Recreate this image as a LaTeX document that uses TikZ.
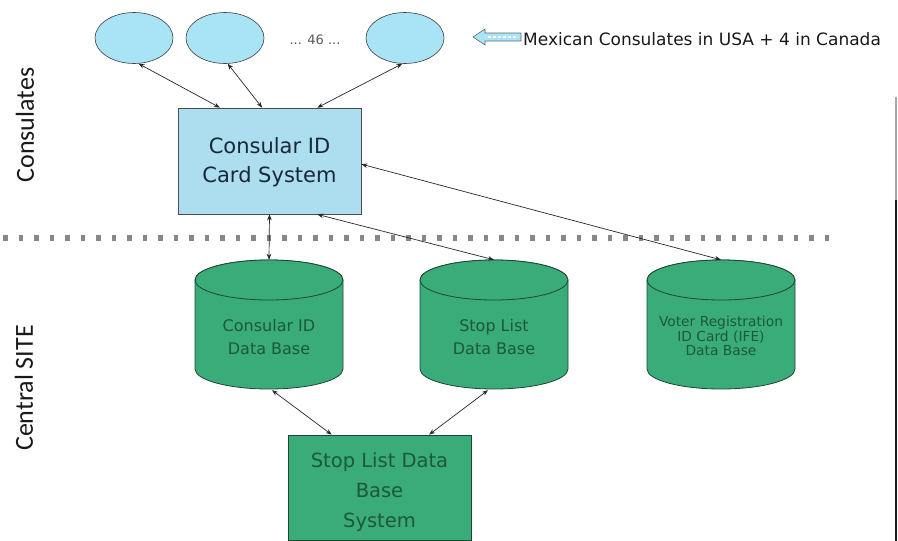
\documentclass[tikz,border=0pt]{standalone}
\usepackage{fontspec}
\setmainfont{DejaVu Sans}
\newfontfamily\sidefont{Carlito}
\usetikzlibrary{shapes.geometric,arrows.meta,calc}
\definecolor{consblue}{RGB}{168,228,246}
\definecolor{boxblue}{RGB}{172,222,240}
\definecolor{dbgreen}{RGB}{58,172,122}
\definecolor{dbline}{RGB}{30,70,50}
\definecolor{dbtext}{RGB}{28,88,58}
\definecolor{boxtext}{RGB}{25,40,55}
\definecolor{dotgray}{RGB}{135,135,135}
\begin{document}
\begin{tikzpicture}[x=1pt,y=-1pt,
  consell/.style={ellipse, draw=black!75, fill=consblue, line width=0.6pt, minimum width=78pt, minimum height=51pt, inner sep=0pt},
  sysbox/.style={rectangle, draw=black!70, line width=0.7pt, minimum width=183pt, minimum height=106pt, inner sep=0pt},
  dbbody/.style={rectangle, minimum width=148pt, minimum height=129pt, inner sep=0pt},
  dblabel/.style={text=dbtext, align=center, inner sep=0pt},
  link/.style={<->, draw=black!85, line width=0.7pt, >={Stealth[length=6pt,width=4.5pt]}},
  sidelabel/.style={rotate=90, font=\sidefont\fontsize{26}{30}\selectfont, text=black!90}
]
\useasboundingbox (0,0) rectangle (898,541);

% consulate ellipses
\node[consell] (e1) at (134,38) {};
\node[consell] (e2) at (225,38) {};
\node[consell] (e3) at (405,38) {};
\node[text=black!65, font=\fontsize{13}{15}\selectfont] (dots) at (315,40) {... 46 ...};

% legend arrow icon and text
\coordinate (ictip) at (473,37);
\path[fill=consblue, draw=black!60, line width=0.6pt]
  (ictip) -- (485,29) -- (485,33) -- (521,33) -- (521,41) -- (485,41) -- (485,45) -- cycle;
\draw[white, line width=1.2pt, dash pattern=on 3pt off 2pt] (488,37) -- (518,37);
\node[anchor=base west, inner sep=0pt, font=\fontsize{17}{20}\selectfont, text=black!90] (legend) at (523,45) {Mexican Consulates in USA + 4 in Canada};

% side labels
\node[sidelabel] (lcons) at (25,125) {Consulates};
\node[sidelabel] (lcent) at (24,388) {Central SITE};

% consular ID card system
\node[sysbox, fill=boxblue] (cis) at (269.5,161) {};
\node[align=center, text=boxtext, font=\fontsize{21}{29}\selectfont, inner sep=0pt] (cist) at (269.5,162) {Consular ID\\Card System};

% separator
\draw[dotgray, line width=6.5pt, dash pattern=on 4.5pt off 11pt] (3,238) -- (830,238);

% cylinders
\foreach \cx/\nm in {269/c1, 494/c2, 721/c3}{
  \path[fill=dbgreen, draw=dbline, line width=0.8pt]
    (\cx-74,280) -- (\cx-74,369) arc[start angle=180, end angle=0, x radius=74, y radius=20]
    -- (\cx+74,280) arc[start angle=0, end angle=-180, x radius=74, y radius=20] -- cycle;
  \draw[dbline, line width=0.8pt, fill=dbgreen] (\cx,280) ellipse[x radius=74, y radius=20];
  \node[dbbody] (\nm) at (\cx,324.5) {};
}
\node[dblabel, font=\fontsize{16}{23}\selectfont] (c1t) at (269,337) {Consular ID\\Data Base};
\node[dblabel, font=\fontsize{16}{23}\selectfont] (c2t) at (494,337) {Stop List\\Data Base};
\node[dblabel, font=\fontsize{13.8}{14.5}\selectfont] (c3t) at (721,336) {Voter Registration\\ID Card (IFE)\\Data Base};

% stop list data base system
\node[sysbox, fill=dbgreen, draw=dbline, minimum height=105pt] (sls) at (379.5,487.5) {};
\node[align=center, text=dbtext, font=\fontsize{19.5}{30}\selectfont, inner sep=0pt] (slst) at (379.5,492) {Stop List Data\\Base\\System};

% connectors
\draw[link] (e1.-80) -- ($(cis.north west)!0.23!(cis.north east)$);
\draw[link] (e2.-84) -- ($(cis.north west)!0.46!(cis.north east)$);
\draw[link] (e3.-96) -- ($(cis.north west)!0.76!(cis.north east)$);
\draw[link] (cis.south) -- (c1.north);
\draw[link] ($(cis.south west)!0.76!(cis.south east)$) -- (c2.north);
\draw[link] ($(cis.north east)!0.53!(cis.south east)$) -- (c3.north);
\draw[link] ($(c1.south)+(3,1)$) -- ($(sls.north west)!0.24!(sls.north east)$);
\draw[link] ($(c2.south)+(-6,1)$) -- ($(sls.north west)!0.77!(sls.north east)$);

% right edge line
\draw[black!35, line width=1.2pt] (896,97) -- (896,200);
\draw[black!90, line width=1.2pt] (896,200) -- (896,541);
\end{tikzpicture}
\end{document}
